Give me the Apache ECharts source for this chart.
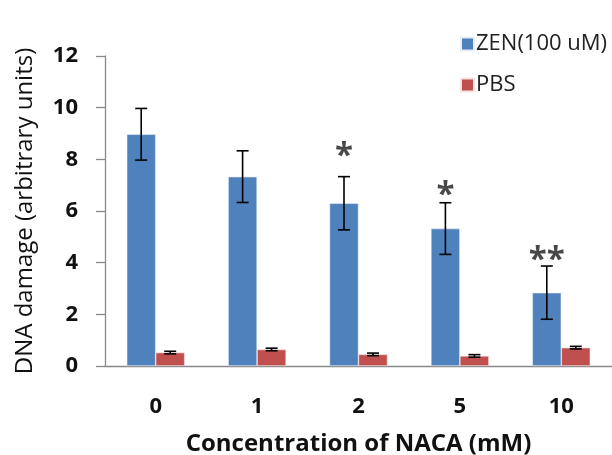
<!DOCTYPE html>
<html><head><meta charset="utf-8">
<script src="https://cdn.jsdelivr.net/npm/echarts@6/dist/echarts.min.js"></script>
<style>html,body{margin:0;padding:0;background:#fff}#c{width:612px;height:455px}</style>
</head><body><div id="c"></div>
<script>
var categories = ['0', '1', '2', '5', '10'];
var zenValues = [8.97, 7.33, 6.3, 5.32, 2.84];
var zenErrors = [1.0, 1.0, 1.03, 1.0, 1.03];
var pbsValues = [0.52, 0.64, 0.45, 0.39, 0.71];
var pbsErrors = [0.05, 0.05, 0.05, 0.05, 0.05];
var sigLabels = ['', '', '*', '*', '**'];
var sigY = [null, null, 8.45, 6.95, 4.42];

var FONT = 'Open Sans';
var chart = echarts.init(document.getElementById('c'), null, {renderer: 'canvas'});

function errSeries(vals, errs, offset) {
  return {
    type: 'custom',
    z: 10,
    silent: true,
    data: vals.map(function (v, i) { return [i, v - errs[i], v + errs[i]]; }),
    renderItem: function (params, api) {
      var lo = api.coord([api.value(0), api.value(1)]);
      var hi = api.coord([api.value(0), api.value(2)]);
      var x = lo[0] + offset;
      var hw = 6;
      var st = {stroke: '#000', lineWidth: 1.6};
      return {type: 'group', children: [
        {type: 'line', shape: {x1: x, y1: hi[1], x2: x, y2: lo[1]}, style: st},
        {type: 'line', shape: {x1: x - hw, y1: hi[1], x2: x + hw, y2: hi[1]}, style: st},
        {type: 'line', shape: {x1: x - hw, y1: lo[1], x2: x + hw, y2: lo[1]}, style: st}
      ]};
    }
  };
}

chart.setOption({
  animation: false,
  textStyle: {fontFamily: FONT},
  grid: {left: 105, top: 56, right: 0, bottom: 89, containLabel: false, outerBoundsMode: 'none'},
  legend: {
    orient: 'vertical', left: 455, top: 28, itemWidth: 13, itemHeight: 13, itemGap: 19,
    icon: 'rect',
    textStyle: {fontFamily: FONT, fontSize: 22, color: '#222', padding: [0, 0, 0, -3]},
    data: ['ZEN(100 uM)', 'PBS']
  },
  xAxis: {
    type: 'category', data: categories,
    axisLine: {lineStyle: {color: '#898989', width: 1.3}},
    axisTick: {length: 10, lineStyle: {color: '#898989', width: 1.3}},
    axisLabel: {margin: 30, fontSize: 22, fontWeight: 'bold', color: '#111', fontFamily: FONT},
    name: 'Concentration of NACA (mM)', nameLocation: 'middle', nameGap: 66,
    nameTextStyle: {fontSize: 24, fontWeight: 'bold', color: '#111', fontFamily: FONT}
  },
  yAxis: {
    type: 'value', min: 0, max: 12, interval: 2,
    splitLine: {show: false},
    axisLine: {show: true, lineStyle: {color: '#898989', width: 1.3}},
    axisTick: {show: true, length: 9, lineStyle: {color: '#898989', width: 1.3}},
    axisLabel: {margin: 27, fontSize: 22, fontWeight: 'bold', color: '#111', fontFamily: FONT},
    name: 'DNA damage (arbitrary units)', nameLocation: 'middle', nameGap: 68,
    nameTextStyle: {fontSize: 24, color: '#111', fontFamily: FONT}
  },
  series: [
    {name: 'ZEN(100 uM)', type: 'bar', data: zenValues, barWidth: 29, barGap: '0%',
      itemStyle: {color: '#4F81BD', borderColor: '#E8EEF7', borderWidth: 0.6}},
    {name: 'PBS', type: 'bar', data: pbsValues, barWidth: 29,
      itemStyle: {color: '#C0504D', borderColor: '#F3E3E3', borderWidth: 0.6}},
    errSeries(zenValues, zenErrors, -14.5),
    errSeries(pbsValues, pbsErrors, 14.5),
    {type: 'scatter', symbolSize: 0, silent: true, z: 11,
      data: sigY.map(function (y, i) { return y === null ? null : {value: [i, y], label: {formatter: sigLabels[i]}}; }),
      encode: {x: 0, y: 1},
      label: {show: true, position: 'inside', offset: [-14.5, 9], fontSize: 33, fontWeight: 'bold', color: '#1a1a1a', fontFamily: FONT}
    }
  ]
});
</script></body></html>
